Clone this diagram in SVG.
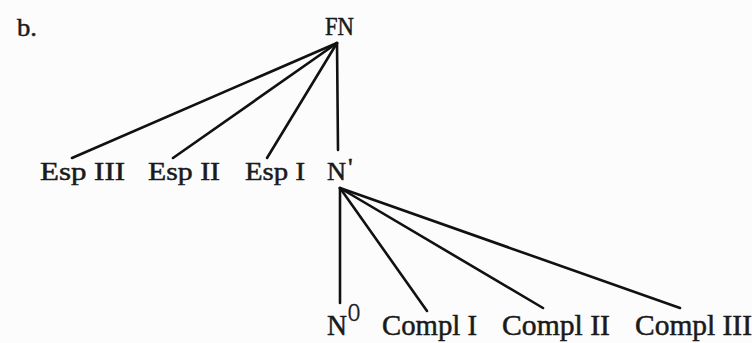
<svg xmlns="http://www.w3.org/2000/svg" width="752" height="343" viewBox="0 0 752 343">
<style>
.t{font-family:"Liberation Serif","DejaVu Serif",serif;fill:#1a1a1a;stroke:#1a1a1a;stroke-width:0.5;font-size:26px}
.t2{font-family:"Liberation Serif","DejaVu Serif",serif;fill:#1a1a1a;stroke:#1a1a1a;stroke-width:0.5;font-size:29px}
.e{stroke:#111;stroke-width:2.6;stroke-linecap:round;fill:none}
</style>
<rect width="752" height="343" fill="#fcfcfc"/>
<text class="t" x="17" y="36" textLength="20" lengthAdjust="spacingAndGlyphs">b.</text>
<g id="connectors">
<line class="e" x1="337" y1="43" x2="72" y2="158"/>
<line class="e" x1="337" y1="43" x2="173" y2="158"/>
<line class="e" x1="337" y1="43" x2="267" y2="158"/>
<line class="e" x1="337" y1="43" x2="338" y2="150"/>
<line class="e" x1="340" y1="188" x2="340" y2="303"/>
<line class="e" x1="340" y1="188" x2="427" y2="311"/>
<line class="e" x1="340" y1="188" x2="543" y2="308"/>
<line class="e" x1="340" y1="188" x2="680" y2="308"/>
</g>
<g id="FN"><text class="t" x="325" y="35" textLength="29" lengthAdjust="spacingAndGlyphs">FN</text></g>
<g id="EspIII"><text class="t" x="40" y="180" textLength="85" lengthAdjust="spacingAndGlyphs">Esp III</text></g>
<g id="EspII"><text class="t" x="148" y="180" textLength="72" lengthAdjust="spacingAndGlyphs">Esp II</text></g>
<g id="EspI"><text class="t" x="245" y="180" textLength="60" lengthAdjust="spacingAndGlyphs">Esp I</text></g>
<g id="Nbar"><text class="t" x="327" y="180" textLength="19" lengthAdjust="spacingAndGlyphs">N</text><text class="t" x="348" y="176" font-size="14">'</text></g>
<g id="N0"><text class="t2" x="327" y="335" textLength="20" lengthAdjust="spacingAndGlyphs">N</text><text class="t" x="348" y="321" font-size="15" textLength="12" lengthAdjust="spacingAndGlyphs">O</text></g>
<g id="ComplI"><text class="t2" x="382" y="335" textLength="95" lengthAdjust="spacingAndGlyphs">Compl I</text></g>
<g id="ComplII"><text class="t2" x="502" y="335" textLength="108" lengthAdjust="spacingAndGlyphs">Compl II</text></g>
<g id="ComplIII"><text class="t2" x="635" y="335" textLength="117" lengthAdjust="spacingAndGlyphs">Compl III</text></g>
</svg>
